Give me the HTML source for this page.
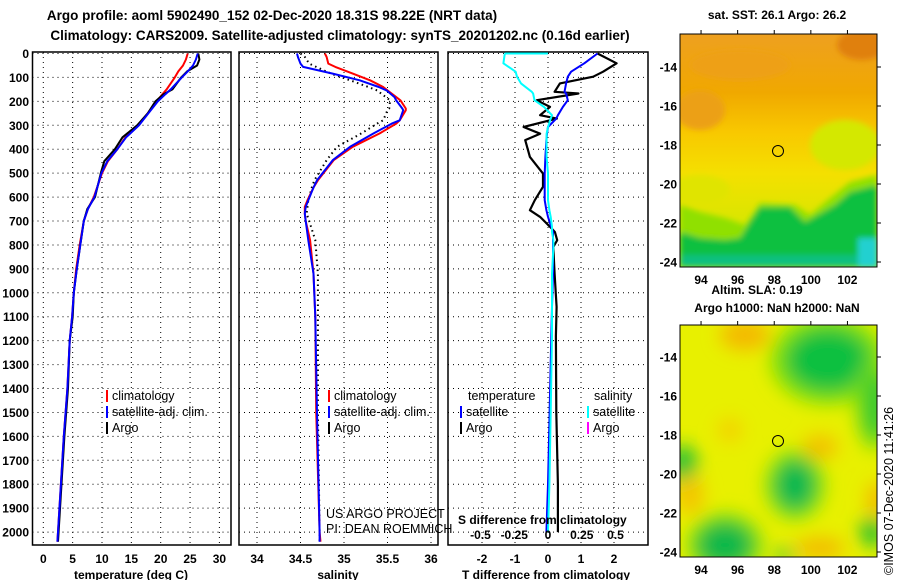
<!DOCTYPE html>
<html><head><meta charset="utf-8">
<style>
body{margin:0;background:#fff;}
svg{display:block;font-family:"Liberation Sans",sans-serif;}
.b{font-weight:bold;font-size:12px;}
.t{font-weight:bold;font-size:13.5px;}
.l{font-size:12.5px;}
.grid line{stroke:#000;stroke-width:1;stroke-dasharray:1,4;}
</style></head><body>
<svg id="chart" width="900" height="580" viewBox="0 0 900 580">
<defs>
<filter id="bl1" x="-10%" y="-10%" width="120%" height="120%"><feGaussianBlur stdDeviation="3"/></filter>
<filter id="bl2" x="-20%" y="-20%" width="140%" height="140%"><feGaussianBlur stdDeviation="9"/></filter>
<clipPath id="c1"><rect x="680" y="34" width="197" height="233"/></clipPath>
<clipPath id="c2"><rect x="680" y="325" width="197" height="232"/></clipPath>
<linearGradient id="g1" x1="0" y1="0" x2="0" y2="1">
<stop offset="0" stop-color="#eea020"/><stop offset="0.25" stop-color="#f0a800"/><stop offset="0.42" stop-color="#f8c800"/><stop offset="0.6" stop-color="#f4e000"/><stop offset="1" stop-color="#c0ec00"/></linearGradient>
</defs>
<text class="t" x="272" y="20" text-anchor="middle">Argo profile: aoml 5902490_152 02-Dec-2020 18.31S 98.22E (NRT data)</text>
<text class="t" x="340" y="40" text-anchor="middle">Climatology: CARS2009. Satellite-adjusted climatology: synTS_20201202.nc (0.16d earlier)</text>
<g id="panels"></g>

<!-- map 1 -->
<text class="b" x="777" y="19" text-anchor="middle">sat.  SST: 26.1 Argo: 26.2</text>
<g clip-path="url(#c1)">
<rect x="680" y="34" width="197" height="233" fill="url(#g1)"/>
<g filter="url(#bl1)">
<ellipse cx="700" cy="110" rx="25" ry="20" fill="#eca018"/>
<ellipse cx="862" cy="45" rx="25" ry="15" fill="#e08010"/>
<ellipse cx="740" cy="65" rx="50" ry="15" fill="#eea018"/>
<ellipse cx="845" cy="145" rx="35" ry="25" fill="#d4e800"/>
<ellipse cx="700" cy="190" rx="30" ry="15" fill="#e0e400"/>
<polygon points="680,205 700,212 725,218 745,225 760,203 795,205 810,215 830,198 850,182 877,175 877,267 680,267" fill="#90e000"/>
<polygon points="680,232 700,238 725,240 740,238 750,222 760,207 790,207 805,222 835,205 850,192 877,185 877,267 680,267" fill="#10c040"/>
<rect x="680" y="255" width="197" height="12" fill="#10c080"/>
<rect x="858" y="238" width="20" height="30" fill="#20d0d0"/>
</g>
<circle cx="778" cy="151" r="5.5" fill="none" stroke="#000" stroke-width="1"/>
</g>
<rect x="680" y="34" width="197" height="233" fill="none" stroke="#000"/>
<text class="b" x="757" y="294" text-anchor="middle">Altim.  SLA: 0.19</text>
<text class="b" x="777" y="312" text-anchor="middle">Argo h1000: NaN h2000: NaN</text>

<!-- map 2 -->
<g clip-path="url(#c2)">
<rect x="680" y="325" width="197" height="232" fill="#e8f000"/>
<g filter="url(#bl2)">
<ellipse cx="745" cy="335" rx="25" ry="15" fill="#f4b800"/>
<ellipse cx="828" cy="360" rx="58" ry="45" fill="#80e000"/>
<ellipse cx="828" cy="360" rx="42" ry="32" fill="#10c040"/>
<ellipse cx="875" cy="405" rx="20" ry="45" fill="#80e000"/>
<ellipse cx="875" cy="405" rx="12" ry="35" fill="#30c830"/>
<ellipse cx="795" cy="485" rx="30" ry="35" fill="#80e000"/>
<ellipse cx="795" cy="485" rx="20" ry="25" fill="#00b850"/>
<ellipse cx="725" cy="545" rx="38" ry="32" fill="#80e000"/>
<ellipse cx="725" cy="545" rx="28" ry="23" fill="#10b848"/>
<ellipse cx="683" cy="465" rx="14" ry="20" fill="#20c038"/>
<ellipse cx="872" cy="532" rx="12" ry="15" fill="#20c030"/>
<ellipse cx="820" cy="447" rx="18" ry="12" fill="#f4c000"/>
<ellipse cx="690" cy="495" rx="14" ry="20" fill="#f4c400"/>
<ellipse cx="820" cy="548" rx="25" ry="10" fill="#f4b800"/>
<ellipse cx="877" cy="500" rx="10" ry="18" fill="#f4b800"/>
<ellipse cx="730" cy="430" rx="12" ry="12" fill="#f4d000"/>
<ellipse cx="785" cy="555" rx="10" ry="6" fill="#10c040"/>
</g>
<circle cx="778" cy="441" r="5.5" fill="none" stroke="#000" stroke-width="1"/>
</g>
<rect x="680" y="325" width="197" height="232" fill="none" stroke="#000"/>
<text x="0" y="0" transform="translate(893,575) rotate(-90)" style="font-size:12.5px">©IMOS 07-Dec-2020 11:41:26</text>

<script>
var depthTicks=[0,100,200,300,400,500,600,700,800,900,1000,1100,1200,1300,1400,1500,1600,1700,1800,1900,2000];
var tempTicks=[0,5,10,15,20,25,30];
var salTicks=[34,34.5,35,35.5,36];
var tdTicks=[-2,-1,0,1,2];
var sdTicks=[-0.5,-0.25,0,0.25,0.5];
var mapLonTicks=[94,96,98,100,102];
var mapLatTicks=[-14,-16,-18,-20,-22,-24];

var tDepth=[0,25,50,75,100,150,170,200,250,300,350,400,450,500,600,650,700,800,900,1000,1100,1200,1400,1600,1800,2000,2040];
var tArgo=[26.4,26.6,26.2,24.5,23.5,22,20.5,19.1,17.8,16,13.5,12.2,10.4,9.8,8.8,7.5,6.9,6.3,5.7,5.2,5,4.5,4.2,3.6,3.1,2.6,2.5];
var tClim=[24.6,24.3,23.8,23,22.4,21,20.3,19.3,17.8,16.2,14,12.6,11,10,8.6,7.6,6.9,6.2,5.6,5.2,4.9,4.5,4.1,3.5,3,2.5,2.4];
var tSat=[26.3,26,25.5,24.6,23.6,21.7,20.8,19.5,17.9,16.3,14.1,12.6,10.9,9.9,8.7,7.6,6.9,6.3,5.7,5.2,4.9,4.5,4.1,3.5,3,2.5,2.4];

var sDepth=[0,14,42,56,84,112,140,154,182,196,230,237,279,293,334,390,446,530,560,613,641,669,700,780,920,1100,1500,2000,2040];
var sArgo=[34.5,34.55,34.6,34.68,34.85,35.07,35.28,35.38,35.48,35.53,35.52,35.5,35.45,35.38,35.2,34.92,34.8,34.66,34.63,34.59,34.58,34.57,34.6,34.67,34.7,34.7,34.7,34.72,34.72];
var sClim=[34.78,34.8,34.82,34.9,35.1,35.3,35.45,35.5,35.6,35.65,35.71,35.71,35.64,35.6,35.41,35.1,34.88,34.7,34.65,34.58,34.55,34.55,34.56,34.61,34.65,34.67,34.68,34.72,34.73];
var sSat=[34.46,34.47,34.5,34.53,34.87,35.18,35.4,35.49,35.58,35.6,35.67,35.68,35.64,35.55,35.34,35.07,34.87,34.69,34.65,34.59,34.56,34.55,34.56,34.59,34.65,34.67,34.69,34.72,34.72];

var dDepth=[0,41,76,97,125,160,167,195,223,258,272,307,335,362,432,502,557,613,655,683,724,746,780,808,920,1059,1180,1500,1800,2000];
var dTArgo=[1.5,2.08,1.67,1.37,0.36,0.2,0.92,-0.34,0.06,-0.24,0.27,-0.74,-0.24,-0.69,-0.55,-0.15,-0.15,-0.4,-0.55,-0.24,0.06,0.21,0.28,0.16,0.2,0.26,0.24,0.25,0.3,0.3];
var dTSat=[1.5,1.1,0.7,0.6,0.55,0.5,0.55,0.6,0.45,0.3,0.25,0.0,-0.03,-0.05,-0.08,-0.1,-0.1,-0.1,-0.05,0.0,0.1,0.15,0.15,0.15,0.15,0.12,0.1,0.05,0.0,-0.05];
var dSSat=[-0.32,-0.33,-0.24,-0.23,-0.2,-0.12,-0.11,-0.1,-0.03,0.03,0.02,0.0,-0.01,-0.01,-0.01,0.0,0.0,0.0,0.01,0.02,0.03,0.03,0.04,0.04,0.03,0.03,0.03,0.02,0.01,0.0];

var NS="http://www.w3.org/2000/svg";
var root=document.getElementById('panels');
function mk(tag,attrs,parent){var e=document.createElementNS(NS,tag);for(var k in attrs)e.setAttribute(k,attrs[k]);(parent||root).appendChild(e);return e;}
function yD(d){return 53.5+0.2393*d;}
var TOP=52,BOT=545;
var panels=[
 {name:'temperature-panel',x0:32.5,x1:231,sx:function(v){return 43.3+5.87*v;},ticks:tempTicks,title:'temperature (deg C)',tx:131},
 {name:'salinity-panel',x0:239,x1:438,sx:function(v){return 257+87*(v-34);},ticks:salTicks,title:'salinity',tx:338},
 {name:'difference-panel',x0:448,x1:648,sx:function(v){return 548+33*v;},ticks:tdTicks,title:'T difference from climatology',tx:546}
];
panels.forEach(function(p,i){
 var g=mk('g',{});
 
 
 var gr=mk('g',{'class':'grid'},g);
 depthTicks.forEach(function(d){mk('line',{x1:p.x0,x2:p.x1,y1:yD(d),y2:yD(d)},gr);});
 p.ticks.forEach(function(v){mk('line',{x1:p.sx(v),x2:p.sx(v),y1:TOP,y2:BOT},gr);
  var t=mk('text',{x:p.sx(v),y:563,'class':'b','text-anchor':'middle'},g);t.textContent=String(v);
  
  
 });
 var fr=mk('rect',{x:p.x0,y:TOP,width:p.x1-p.x0,height:BOT-TOP,fill:'none',stroke:'#000','stroke-width':1.5},g);
 
 
 var tt=mk('text',{x:p.tx,y:579,'class':'b','text-anchor':'middle'},g);tt.textContent=p.title;
 
 
 p.g=g;
});
depthTicks.forEach(function(d){var t=mk('text',{x:29,y:yD(d)+4.5,'class':'b','text-anchor':'end'});t.textContent=String(d);
 
 });
function line(depth,vals,sx,color,w,name,dash){
 var pts=depth.map(function(d,i){return sx(vals[i]).toFixed(1)+','+yD(d).toFixed(1);}).join(' ');
 var a={points:pts,fill:'none',stroke:color,'stroke-width':w,'stroke-linejoin':'round'};
 if(dash)a['stroke-dasharray']=dash;
 var e=mk('polyline',a);
 
 
}
var P=panels;
line(tDepth,tClim,P[0].sx,'#f00',2,'temp-climatology-line');
line(tDepth,tArgo,P[0].sx,'#000',2,'temp-argo-line');
line(tDepth,tSat,P[0].sx,'#00f',2,'temp-satellite-line');
line(sDepth,sArgo,P[1].sx,'#000',2,'sal-argo-line','1.5,3.5');
line(sDepth,sClim,P[1].sx,'#f00',2,'sal-climatology-line');
line(sDepth,sSat,P[1].sx,'#00f',2,'sal-satellite-line');
var sS=function(v){return 548+135*v;};
line(dDepth,dTArgo,P[2].sx,'#000',2.2,'tdiff-argo-line');
line(dDepth,dTSat,P[2].sx,'#00f',2,'tdiff-satellite-line');
line(dDepth,dSSat,sS,'#0ff',2,'sdiff-satellite-line');
var cap=mk('line',{x1:sS(dSSat[0]),x2:548,y1:yD(0),y2:yD(0),stroke:'#0ff','stroke-width':2});



function leg(x,y,color,label){
 var m=mk('rect',{x:x,y:y-10,width:2,height:12,fill:color});
 
 
 if(label){var t=mk('text',{x:x+6,y:y,'class':'l'});t.textContent=label;
 
 }
}
function txt(x,y,s,cls,name,anchor){var t=mk('text',{x:x,y:y,'class':cls,'text-anchor':anchor||'start'});t.textContent=s;
 
 }
leg(106,400,'#f00','climatology');leg(106,416,'#00f','satellite-adj. clim.');leg(106,432,'#000','Argo');
leg(328,400,'#f00','climatology');leg(328,416,'#00f','satellite-adj. clim.');leg(328,432,'#000','Argo');
txt(468,400,'temperature','l','legend-temperature-header');
txt(594,400,'salinity','l','legend-salinity-header');
leg(460,416,'#00f','satellite');leg(460,432,'#000','Argo');
leg(587,416,'#0ff','satellite');leg(587,432,'#f0f','Argo');
txt(326,518,'US ARGO PROJECT','l','credit-project');
txt(326,533,'PI: DEAN ROEMMICH','l','credit-pi');
txt(458,524,'S difference from climatology','b','s-axis-title');
sdTicks.forEach(function(v){txt(sS(v),539,String(v),'b','s-tick-label','middle');});

// map axes
[[34,267,function(v){return 680+(v-92.85)*18.3;},function(v){return 67+(-14-v)*19.5;},284],
 [325,557,function(v){return 680+(v-92.85)*18.3;},function(v){return 357+(-14-v)*19.5;},574]].forEach(function(m,k){
 mapLonTicks.forEach(function(v){var x=m[2](v);
  mk('line',{x1:x,x2:x,y1:m[0]-4,y2:m[0],stroke:'#000'});
  txt(x,m[4],String(v),'b','map-lon-label','middle');});
 mapLatTicks.forEach(function(v){var y=m[3](v);
  mk('line',{x1:877,x2:881,y1:y,y2:y,stroke:'#000'});
  txt(677,y+4.5,String(v),'b','map-lat-label','end');});
});
</script>
</svg>
</body></html>
